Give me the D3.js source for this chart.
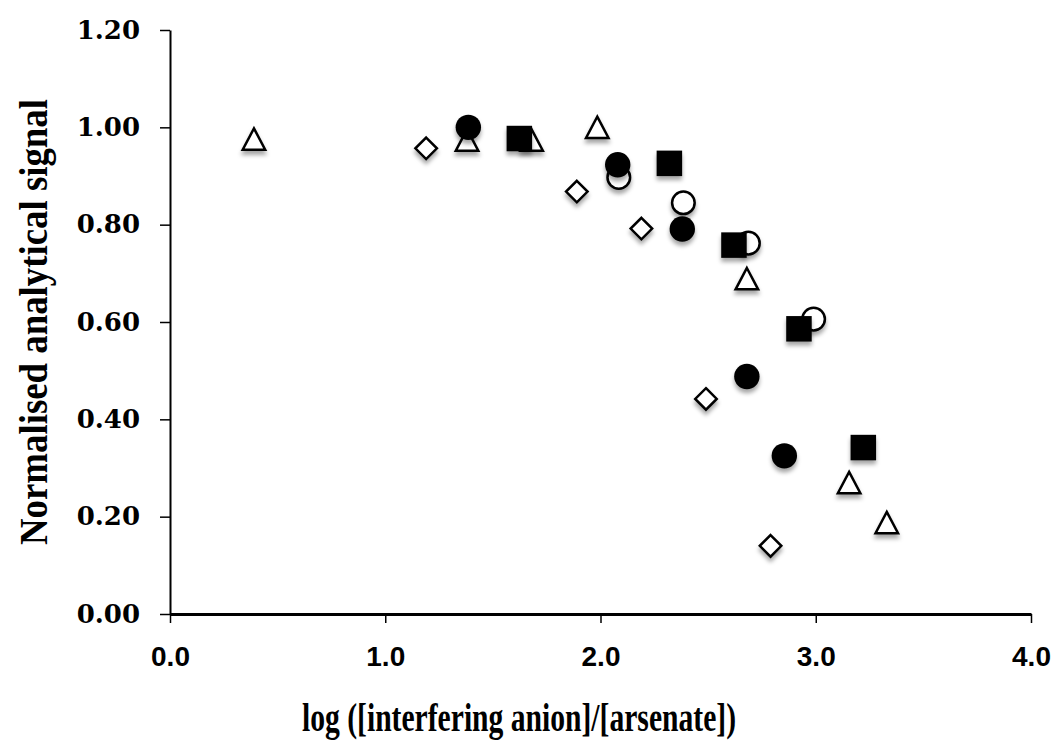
<!DOCTYPE html>
<html>
<head>
<meta charset="utf-8">
<script src="https://cdn.jsdelivr.net/npm/d3@7"></script>
<style>
  html, body { margin: 0; padding: 0; background: #fff; }
  svg { display: block; }
</style>
</head>
<body>
<svg id="chart" width="1054" height="745"></svg>
<script>
// ---- data ----
const xTicks = [0.0, 1.0, 2.0, 3.0, 4.0];
const yTicks = [0.00, 0.20, 0.40, 0.60, 0.80, 1.00, 1.20];

const triX = [0.39, 1.38, 1.68, 1.985, 2.68, 3.155, 3.33];
const triY = [0.976, 0.974, 0.974, 1.000, 0.689, 0.270, 0.188];

const diaX = [1.19, 1.89, 2.19, 2.49, 2.79];
const diaY = [0.957, 0.868, 0.792, 0.442, 0.140];

const openCircX = [2.085, 2.385, 2.687, 2.99];
const openCircY = [0.897, 0.845, 0.762, 0.606];

const fillCircX = [1.386, 2.08, 2.38, 2.68, 2.854];
const fillCircY = [1.000, 0.923, 0.791, 0.488, 0.325];

const squareX = [1.623, 2.32, 2.62, 2.922, 3.221];
const squareY = [0.977, 0.926, 0.758, 0.586, 0.342];

const xTitle = "log ([interfering anion]/[arsenate])";
const yTitle = "Normalised analytical signal";

// ---- layout ----
const svg = d3.select("#chart");
const x = d3.scaleLinear().domain([0, 4]).range([170, 1031]);
const y = d3.scaleLinear().domain([0, 1.2]).range([614, 30]);

// drop shadow filter
const defs = svg.append("defs");
const f = defs.append("filter").attr("id", "shadow")
  .attr("x", "-50%").attr("y", "-50%").attr("width", "200%").attr("height", "200%");
f.append("feDropShadow").attr("dx", 0).attr("dy", 4).attr("stdDeviation", 2)
  .attr("flood-color", "#000").attr("flood-opacity", 0.35);

// custom symbol types (size = width^2)
const bboxTriangle = {
  draw(ctx, size) {
    const w = Math.sqrt(size), h = w * 0.95;
    ctx.moveTo(0, -h / 2);
    ctx.lineTo(w / 2, h / 2);
    ctx.lineTo(-w / 2, h / 2);
    ctx.closePath();
  }
};
const bboxDiamond = {
  draw(ctx, size) {
    const r = Math.sqrt(size) / 2;
    ctx.moveTo(0, -r);
    ctx.lineTo(r, 0);
    ctx.lineTo(0, r);
    ctx.lineTo(-r, 0);
    ctx.closePath();
  }
};

// axes
const yAxis = d3.axisLeft(y).tickValues(yTicks).tickFormat(d3.format(".2f"))
  .tickSize(10).tickSizeOuter(0).tickPadding(20);
const xAxis = d3.axisBottom(x).tickValues(xTicks).tickFormat(d3.format(".1f"))
  .tickSize(9).tickSizeOuter(0).tickPadding(23);

const gy = svg.append("g").attr("transform", `translate(${x(0)},0)`).call(yAxis);
gy.select(".domain").attr("stroke", "#000").attr("stroke-width", 2);
gy.selectAll(".tick line").attr("stroke", "#000").attr("stroke-width", 1.5);
gy.selectAll(".tick text")
  .attr("font-family", "'DejaVu Serif', serif")
  .attr("font-weight", "bold")
  .attr("font-size", 26)
  .attr("fill", "#000");

const gx = svg.append("g").attr("transform", `translate(0,${y(0)})`).call(xAxis);
gx.select(".domain").attr("stroke", "#000").attr("stroke-width", 3);
gx.selectAll(".tick line").attr("stroke", "#000").attr("stroke-width", 1.5);
gx.selectAll(".tick text")
  .attr("font-family", "'Liberation Sans', Arial, sans-serif")
  .attr("font-weight", "bold")
  .attr("font-size", 28)
  .attr("fill", "#000");

// titles
svg.append("text")
  .attr("x", 519).attr("y", 731)
  .attr("text-anchor", "middle")
  .attr("font-family", "'Liberation Serif', serif")
  .attr("font-weight", "bold")
  .attr("font-size", 40)
  .attr("textLength", 434)
  .attr("lengthAdjust", "spacingAndGlyphs")
  .attr("fill", "#000")
  .text(xTitle);

svg.append("text")
  .attr("transform", "translate(47,322) rotate(-90)")
  .attr("text-anchor", "middle")
  .attr("font-family", "'Liberation Serif', serif")
  .attr("font-weight", "bold")
  .attr("font-size", 39)
  .attr("textLength", 446)
  .attr("lengthAdjust", "spacingAndGlyphs")
  .attr("fill", "#000")
  .text(yTitle);

// series (drawn bottom to top)
const series = [
  { xs: triX, ys: triY, type: bboxTriangle, size: 22.5 * 22.5, fill: "#fff", stroke: "#000", sw: 2.5 },
  { xs: diaX, ys: diaY, type: bboxDiamond, size: 21.5 * 21.5, fill: "#fff", stroke: "#000", sw: 2.5 },
  { xs: openCircX, ys: openCircY, type: d3.symbolCircle, size: Math.PI * 11.3 * 11.3, fill: "#fff", stroke: "#000", sw: 2.5 },
  { xs: fillCircX, ys: fillCircY, type: d3.symbolCircle, size: Math.PI * 12.7 * 12.7, fill: "#000", stroke: "none", sw: 0 },
  { xs: squareX, ys: squareY, type: d3.symbolSquare, size: 25.5 * 25.5, fill: "#000", stroke: "none", sw: 0 }
];

series.forEach(s => {
  const pts = s.xs.map((v, i) => ({ x: v, y: s.ys[i] }));
  svg.append("g").attr("filter", "url(#shadow)")
    .selectAll("path").data(pts).join("path")
    .attr("transform", d => `translate(${x(d.x)},${y(d.y)})`)
    .attr("d", d3.symbol().type(s.type).size(s.size)())
    .attr("fill", s.fill)
    .attr("stroke", s.stroke)
    .attr("stroke-width", s.sw)
    .attr("stroke-linejoin", "miter");
});
</script>
</body>
</html>
